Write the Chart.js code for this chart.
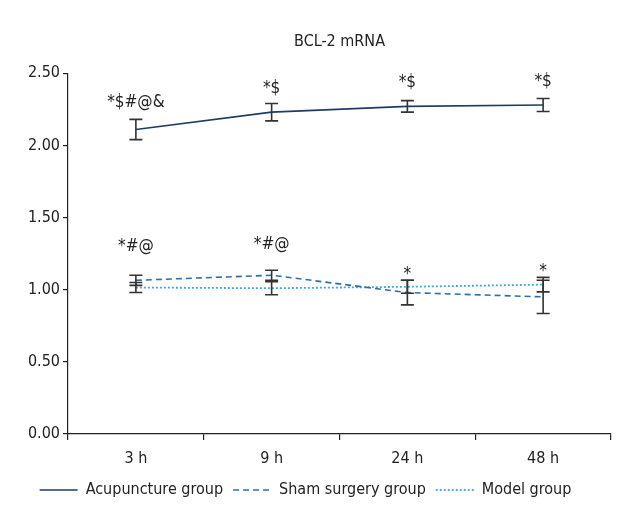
<!DOCTYPE html>
<html>
<head>
<meta charset="utf-8">
<script src="https://cdn.jsdelivr.net/npm/chart.js@4.4.1/dist/chart.umd.min.js"></script>
<style>
  html, body { margin: 0; padding: 0; background: #ffffff; }
  #wrap { width: 640px; height: 520px; }
</style>
</head>
<body>
<div id="wrap"><canvas id="c" width="640" height="520"></canvas></div>
<script>
// ---- data ----
const categories = ['3 h', '9 h', '24 h', '48 h'];
const yTicks = [0, 0.5, 1.0, 1.5, 2.0, 2.5];

const acupuncture = [2.11, 2.23, 2.27, 2.28];
const acupunctureErr = [0.07, 0.06, 0.04, 0.045];

const sham = [1.065, 1.10, 0.98, 0.95];
const shamErr = [0.035, 0.035, 0.085, 0.115];

const model = [1.015, 1.01, 1.02, 1.035];
const modelErr = [0.035, 0.045, 0.045, 0.05];

const acupunctureMarks = ['*$#@&', '*$', '*$', '*$'];
const shamMarks = ['*#@', '*#@', '*', '*'];

// ---- styles ----
const FONT = '"DejaVu Sans Condensed", "Liberation Sans Narrow", sans-serif';
const C_ACU = '#1f3d63';
const C_SHAM = '#2b70a6';
const C_MODEL = '#3ea8d8';
const C_ERR = '#333333';
const C_TEXT = '#222222';

const errorBarPlugin = {
  id: 'errorBars',
  afterDatasetsDraw(chart) {
    const { ctx, scales } = chart;
    const xs = scales.x, ys = scales.y;
    const errs = [acupunctureErr, shamErr, modelErr];
    ctx.save();
    ctx.strokeStyle = C_ERR;
    ctx.lineWidth = 1.6;
    ctx.setLineDash([]);
    chart.data.datasets.forEach((ds, di) => {
      ds.data.forEach((v, i) => {
        const e = errs[di][i];
        const x = xs.getPixelForValue(i);
        const yt = ys.getPixelForValue(v + e);
        const yb = ys.getPixelForValue(v - e);
        const hw = 6.5;
        ctx.beginPath();
        ctx.moveTo(x, yt); ctx.lineTo(x, yb);
        ctx.moveTo(x - hw, yt); ctx.lineTo(x + hw, yt);
        ctx.moveTo(x - hw, yb); ctx.lineTo(x + hw, yb);
        ctx.stroke();
      });
    });
    // significance marks
    ctx.fillStyle = C_TEXT;
    ctx.font = '17px ' + FONT;
    ctx.textAlign = 'center';
    ctx.textBaseline = 'middle';
    const acuOff = [17, 15, 18, 17];
    acupunctureMarks.forEach((t, i) => {
      const x = xs.getPixelForValue(i);
      const y = ys.getPixelForValue(acupuncture[i] + acupunctureErr[i]) - acuOff[i];
      ctx.fillText(t, x, y);
    });
    const shamOff = [29, 26, 6, 6];
    shamMarks.forEach((t, i) => {
      const x = xs.getPixelForValue(i);
      const top = Math.max(sham[i] + shamErr[i], model[i] + modelErr[i]);
      const y = ys.getPixelForValue(top) - shamOff[i];
      ctx.fillText(t, x, y);
    });
    ctx.restore();
  }
};

const fontOpt = (size) => ({ family: FONT, size: size, weight: 'normal' });

new Chart(document.getElementById('c'), {
  type: 'line',
  data: {
    labels: categories,
    datasets: [
      { label: 'Acupuncture group', data: acupuncture, borderColor: C_ACU, backgroundColor: C_ACU,
        borderWidth: 1.6, borderDash: [], pointRadius: 0, tension: 0, pointStyle: 'line' },
      { label: 'Sham surgery group', data: sham, borderColor: C_SHAM, backgroundColor: C_SHAM,
        borderWidth: 1.6, borderDash: [6, 4], pointRadius: 0, tension: 0, pointStyle: 'line' },
      { label: 'Model group', data: model, borderColor: C_MODEL, backgroundColor: C_MODEL,
        borderWidth: 1.8, borderDash: [2, 2], pointRadius: 0, tension: 0, pointStyle: 'line' }
    ]
  },
  options: {
    responsive: false,
    animation: false,
    devicePixelRatio: 1,
    layout: { padding: { left: 0, right: 29, top: 0, bottom: 12 } },
    plugins: {
      title: {
        display: true, text: 'BCL-2 mRNA', color: C_TEXT,
        fullSize: false,
        font: fontOpt(16),
        padding: { top: 32, bottom: 22 }
      },
      legend: {
        position: 'bottom',
        labels: {
          usePointStyle: true, pointStyleWidth: 38, boxHeight: 16,
          color: C_TEXT, padding: 10,
          font: fontOpt(16),
          generateLabels(chart) {
            const items = Chart.defaults.plugins.legend.labels.generateLabels(chart);
            items.forEach(it => {
              const ds = chart.data.datasets[it.datasetIndex];
              it.lineDash = ds.borderDash || [];
              it.lineWidth = ds.borderWidth;
              it.strokeStyle = ds.borderColor;
              it.pointStyle = 'line';
            });
            return items;
          }
        }
      },
      tooltip: { enabled: false }
    },
    scales: {
      x: {
        type: 'category', offset: true,
        border: { display: true, color: C_TEXT, width: 1.2 },
        grid: { display: true, offset: true, drawOnChartArea: false, drawTicks: true,
                tickLength: 6, color: C_TEXT, lineWidth: 1.2 },
        ticks: { color: C_TEXT, padding: 9, font: fontOpt(16) },
        afterFit(scale) { scale.height = 38; }
      },
      y: {
        min: 0, max: 2.5,
        border: { display: true, color: C_TEXT, width: 1.2 },
        grid: { display: true, drawOnChartArea: false, drawTicks: true,
                tickLength: 5, color: C_TEXT, lineWidth: 1.2 },
        afterBuildTicks(scale) { scale.ticks = yTicks.map(v => ({ value: v })); },
        ticks: { color: C_TEXT, padding: 3, font: fontOpt(16),
                 callback: v => Number(v).toFixed(2) },
        afterFit(scale) { scale.width = 68; }
      }
    }
  },
  plugins: [errorBarPlugin]
});
</script>
</body>
</html>
